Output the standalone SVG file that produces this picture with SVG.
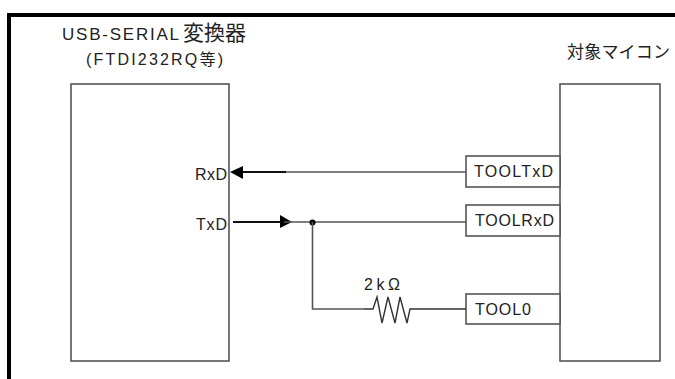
<svg xmlns="http://www.w3.org/2000/svg" width="675" height="379" viewBox="0 0 675 379">
<defs><style>
.b{fill:#fff;stroke:#555;stroke-width:1.6}
.w{fill:none;stroke:#555;stroke-width:1.6}
.k{fill:none;stroke:#111;stroke-width:1.8}
text{font-family:"Liberation Sans","Noto Sans CJK JP",sans-serif;font-size:16px;fill:#222}
</style></defs>
<rect width="675" height="379" fill="#fff"/>
<path id="frame" d="M9 379V15H675" fill="none" stroke="#000" stroke-width="4"/>
<g id="usb">
<rect class="b" x="71" y="84" width="158" height="277"/>
<text x="62" y="40"><tspan textLength="117" style="font-size:17px">USB-SERIAL</tspan><tspan x="183" style="font-size:21px">変換器</tspan></text>
<text x="86" y="65" textLength="137">(FTDI232RQ等)</text>
<text x="195" y="180" textLength="32">RxD</text>
<text x="196" y="230" textLength="31">TxD</text>
</g>
<g id="mcu">
<rect class="b" x="560" y="84" width="100" height="277"/>
<text x="567" y="58" textLength="103" style="font-size:17px">対象マイコン</text>
</g>
<g id="tooltxd"><rect class="b" x="466" y="156" width="94" height="31"/><text x="474" y="177" textLength="79">TOOLTxD</text></g>
<g id="toolrxd"><rect class="b" x="466" y="205" width="94" height="31"/><text x="475" y="226" textLength="79">TOOLRxD</text></g>
<g id="tool0"><rect class="b" x="466" y="294" width="94" height="30"/><text x="475" y="315" textLength="56">TOOL0</text></g>
<g id="connectors">
<path class="w" d="M466 172H286"/>
<path class="k" d="M286 172H240"/>
<path d="M230 172L243 166V179Z" fill="#000"/>
<path class="k" d="M233 222H284"/>
<path d="M292 222L280 215V228Z" fill="#000"/>
<path class="w" d="M284 222H466"/>
<circle cx="312.500" cy="222.500" r="3" fill="#000"/>
<path class="w" d="M312.500 222V309H364"/>
<path fill="none" stroke="#333" stroke-width="1.400" d="M364 309H373L377 297L382 323L388 297L395 323L400 297L407 323L410 309H466"/>
<text x="364" y="290" textLength="36">2kΩ</text>
</g>
</svg>
